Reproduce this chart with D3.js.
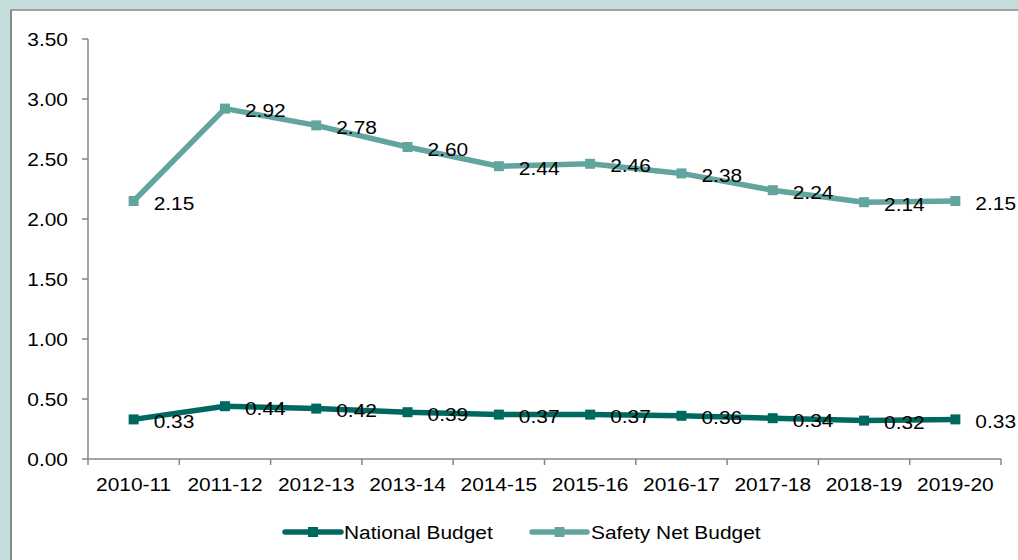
<!DOCTYPE html>
<html><head><meta charset="utf-8">
<script src="https://cdn.jsdelivr.net/npm/d3@7/dist/d3.min.js"></script>
<style>html,body{margin:0;padding:0;background:#c5dedb;}svg{display:block;}</style>
</head><body>
<svg id="chart" width="1018" height="560"></svg>
<script>
const categories = ["2010-11","2011-12","2012-13","2013-14","2014-15","2015-16","2016-17","2017-18","2018-19","2019-20"];
const nationalBudget = [0.33,0.44,0.42,0.39,0.37,0.37,0.36,0.34,0.32,0.33];
const safetyNetBudget = [2.15,2.92,2.78,2.60,2.44,2.46,2.38,2.24,2.14,2.15];
const yTicks = [0,0.5,1,1.5,2,2.5,3,3.5];
const seriesNames = ["National Budget","Safety Net Budget"];
const seriesColors = ["#00695f","#62a59f"];

const svg = d3.select("#chart");
const SX = 1.1;
const font = "'Liberation Sans', Arial, sans-serif";

// panel
svg.append("rect").attr("x",0).attr("y",0).attr("width",1018).attr("height",560).attr("fill","#c5dedb");
svg.append("rect").attr("x",11).attr("y",10.5).attr("width",1010).attr("height",555).attr("fill","#fff");
svg.append("line").attr("x1",10.5).attr("x2",1018).attr("y1",10).attr("y2",10).attr("stroke","#8a8a8a").attr("stroke-width",1.5);
svg.append("line").attr("x1",11).attr("x2",11).attr("y1",10).attr("y2",560).attr("stroke","#8a8a8a").attr("stroke-width",2);

const x = d3.scaleBand().domain(categories).range([88,1001]).padding(0);
const y = d3.scaleLinear().domain([0,3.5]).range([459,39]);
const cx = c => x(c) + x.bandwidth()/2;

function txt(g, tx, ty, s, anchor){
  g.append("text").attr("transform",`translate(${tx},${ty}) scale(${SX},1)`)
    .attr("text-anchor",anchor).attr("font-family",font).attr("font-size",19).attr("fill","#000").text(s);
}

const axisColor = "#868686";
// y axis
const gy = svg.append("g");
gy.append("line").attr("x1",88).attr("x2",88).attr("y1",y(3.5)).attr("y2",y(0)).attr("stroke",axisColor).attr("stroke-width",1.5);
yTicks.forEach(t=>{
  gy.append("line").attr("x1",82).attr("x2",88).attr("y1",y(t)).attr("y2",y(t)).attr("stroke",axisColor).attr("stroke-width",1.5);
  txt(gy, 68, y(t)+7, d3.format(".2f")(t), "end");
});
// x axis
const gx = svg.append("g");
gx.append("line").attr("x1",88).attr("x2",1001).attr("y1",y(0)).attr("y2",y(0)).attr("stroke",axisColor).attr("stroke-width",1.5);
const bounds = categories.map(c=>x(c)).concat([x(categories[categories.length-1])+x.bandwidth()]);
bounds.forEach(b=>{
  gx.append("line").attr("x1",b).attr("x2",b).attr("y1",y(0)).attr("y2",y(0)+6).attr("stroke",axisColor).attr("stroke-width",1.5);
});
categories.forEach(c=> txt(gx, cx(c), 491, c, "middle"));

// series
const series = [nationalBudget, safetyNetBudget];
const line = d3.line().x((d,i)=>cx(categories[i])).y(d=>y(d));
series.forEach((vals,si)=>{
  const g = svg.append("g");
  g.append("path").datum(vals).attr("d",line).attr("fill","none").attr("stroke",seriesColors[si])
    .attr("stroke-width",5.5).attr("stroke-linejoin","round").attr("stroke-linecap","round");
  g.selectAll("rect").data(vals).enter().append("rect")
    .attr("x",(d,i)=>cx(categories[i])-5).attr("y",d=>y(d)-5).attr("width",10).attr("height",10)
    .attr("fill",seriesColors[si]);
  vals.forEach((v,i)=> txt(g, cx(categories[i])+20, y(v)+8.5, d3.format(".2f")(v), "start"));
});

// legend
const legendItems = [{x0:285,x1:341,tx:344},{x0:532,x1:587,tx:591}];
legendItems.forEach((it,i)=>{
  const g = svg.append("g");
  g.append("line").attr("x1",it.x0).attr("x2",it.x1).attr("y1",532).attr("y2",532)
    .attr("stroke",seriesColors[i]).attr("stroke-width",5.5).attr("stroke-linecap","round");
  g.append("rect").attr("x",(it.x0+it.x1)/2-5).attr("y",532-5).attr("width",10).attr("height",10).attr("fill",seriesColors[i]);
  txt(g, it.tx, 539, seriesNames[i], "start");
});
</script>
</body></html>
